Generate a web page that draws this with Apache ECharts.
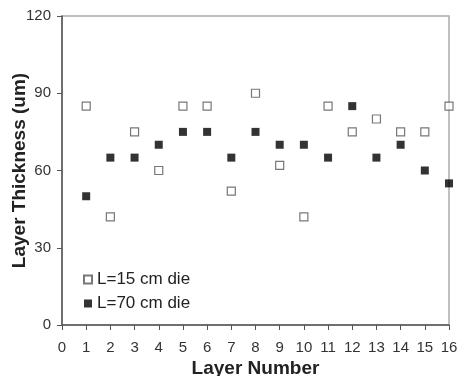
<!DOCTYPE html>
<html>
<head>
<meta charset="utf-8">
<script src="https://cdn.jsdelivr.net/npm/echarts@6/dist/echarts.min.js"></script>
<style>
  html, body { margin: 0; padding: 0; background: #fff; }
  #chart { width: 458px; height: 376px; }
</style>
</head>
<body>
<div id="chart"></div>
<script>
// Layer thickness per layer for two die lengths
const layers = [1, 2, 3, 4, 5, 6, 7, 8, 9, 10, 11, 12, 13, 14, 15, 16];
const thickness15 = [85, 42, 75, 60, 85, 85, 52, 90, 62, 42, 85, 75, 80, 75, 75, 85];
const thickness70 = [50, 65, 65, 70, 75, 75, 65, 75, 70, 70, 65, 85, 65, 70, 60, 55];
const seriesNames = ['L=15 cm die', 'L=70 cm die'];

const pairs = (vals) => layers.map((l, i) => [l, vals[i]]);
const font = 'Liberation Sans, Arial, sans-serif';

const chart = echarts.init(document.getElementById('chart'));
chart.setOption({
  animation: false,
  backgroundColor: '#fff',
  grid: {
    left: 62, right: 9, top: 16, bottom: 51,
    containLabel: false,
    outerBoundsMode: 'none',
    show: true, borderColor: '#aaa', borderWidth: 1.5
  },
  legend: {
    orient: 'vertical',
    left: 83, top: 271, padding: 0,
    itemWidth: 8, itemHeight: 8, itemGap: 7,
    textStyle: { fontFamily: font, fontSize: 17, color: '#222' },
    data: seriesNames
  },
  xAxis: {
    type: 'value', min: 0, max: 16, interval: 1,
    name: 'Layer Number', nameLocation: 'middle', nameGap: 34,
    nameMoveOverlap: false,
    nameTextStyle: { fontFamily: font, fontSize: 19, fontWeight: 'bold', color: '#222' },
    axisLine: { lineStyle: { color: '#555', width: 1.5 } },
    axisTick: { inside: false, length: 5, lineStyle: { color: '#555' } },
    axisLabel: { fontFamily: font, fontSize: 15, color: '#333', margin: 15 },
    splitLine: { show: false }
  },
  yAxis: {
    type: 'value', min: 0, max: 120, interval: 30,
    name: 'Layer Thickness (um)', nameLocation: 'middle', nameGap: 33,
    nameMoveOverlap: false,
    nameTextStyle: { fontFamily: font, fontSize: 19, fontWeight: 'bold', color: '#222' },
    axisLine: { show: true, lineStyle: { color: '#555', width: 1.5 } },
    axisTick: { show: true, inside: false, length: 5, lineStyle: { color: '#555' } },
    axisLabel: { fontFamily: font, fontSize: 15, color: '#333', margin: 11 },
    splitLine: { show: false }
  },
  series: [
    {
      name: seriesNames[0], type: 'scatter', symbol: 'rect', symbolSize: 8,
      itemStyle: { color: '#fff', borderColor: '#555', borderWidth: 1.2 },
      data: pairs(thickness15)
    },
    {
      name: seriesNames[1], type: 'scatter', symbol: 'rect', symbolSize: 8,
      itemStyle: { color: '#000' },
      data: pairs(thickness70)
    }
  ]
});
</script>
</body>
</html>
